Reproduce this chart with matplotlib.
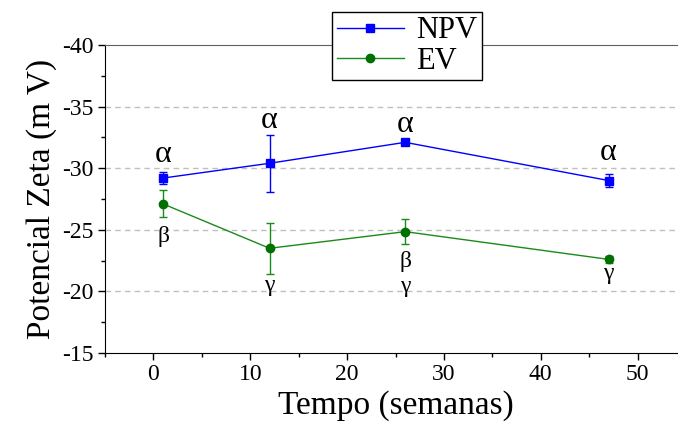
import matplotlib
matplotlib.use("Agg")
import matplotlib.pyplot as plt
from matplotlib.lines import Line2D

plt.rcParams['font.family'] = ['Liberation Serif', 'DejaVu Serif']
plt.rcParams['axes.unicode_minus'] = False

# tempo em semanas
semanas = [1, 12, 26, 47]

# potencial zeta (mV) e desvio
npv = [-29.2, -30.4, -32.1, -29.0]
npv_err = [0.5, 2.3, 0.2, 0.5]
ev = [-27.1, -23.5, -24.85, -22.6]
ev_err = [1.1, 2.05, 1.0, 0.3]

# letras de significancia
npv_letras = ['α', 'α', 'α', 'α']
ev_letras = [['β'], ['γ'], ['β', 'γ'], ['γ']]

# deslocamento das letras em relacao ao ponto (pixels)
npv_desloc = [24, 43, 18, 28]
ev_desloc = [[33], [37], [30, 55], [14]]

azul = '#0000ff'
verde = '#1a8a1a'
verde_esc = '#007000'

fig = plt.figure(figsize=(6.78, 4.26), dpi=100)
ax = fig.add_axes([105 / 678, 73 / 426, 581 / 678, 308 / 426])

ax.errorbar(semanas, npv, yerr=npv_err, color=azul, marker='s', ms=6,
            lw=1, capsize=3, elinewidth=1, zorder=3)
ax.errorbar(semanas, ev, yerr=ev_err, color=verde, mfc=verde_esc, mec=verde_esc,
            marker='o', ms=6, lw=1, capsize=3, elinewidth=1, zorder=3)

px = 72 / 100
for x, y, d, t in zip(semanas, npv, npv_desloc, npv_letras):
    ax.annotate(t, (x, y), xytext=(0, d * px), textcoords='offset points',
                ha='center', va='center', fontsize=23)
for x, y, ds, ts in zip(semanas, ev, ev_desloc, ev_letras):
    for d, t in zip(ds, ts):
        ax.annotate(t, (x, y), xytext=(0, -d * px), textcoords='offset points',
                    ha='center', va='center', fontsize=17)

ax.set_xlim(-5, 55)
ax.set_ylim(-15, -40)
ax.set_xticks([0, 10, 20, 30, 40, 50])
ax.set_yticks([-40, -35, -30, -25, -20, -15])
ax.set_xticks([-5, 5, 15, 25, 35, 45, 55], minor=True)
ax.set_yticks([-37.5, -32.5, -27.5, -22.5, -17.5], minor=True)
ax.tick_params(which='major', direction='out', length=5, width=1, labelsize=17, pad=3)
ax.tick_params(which='minor', direction='out', length=3, width=1)

for yv in [-35, -30, -25, -20]:
    ax.axhline(yv, color='#c0c0c0', ls=(0, (4, 3)), lw=1, zorder=1)

ax.spines['top'].set_color('#606060')
ax.spines['right'].set_visible(False)

ax.set_xlabel('Tempo (semanas)', fontsize=24, labelpad=4)
ax.set_ylabel('Potencial Zeta (m V)', fontsize=24, labelpad=4)

handles = [
    Line2D([], [], color=azul, marker='s', ms=6, lw=1),
    Line2D([], [], color=verde, mfc=verde_esc, mec=verde_esc, marker='o', ms=6, lw=1),
]
leg = fig.legend(handles, ['NPV', 'EV'], loc='center',
                 bbox_to_anchor=(407 / 678, 1 - 46 / 426),
                 fontsize=22, frameon=True, fancybox=False, edgecolor='black',
                 handlelength=2.2, borderpad=0.15, labelspacing=0.05,
                 handletextpad=0.4, borderaxespad=0)
leg.get_frame().set_linewidth(1)
leg.get_frame().set_alpha(1)

fig.savefig('out.png', dpi=100)
